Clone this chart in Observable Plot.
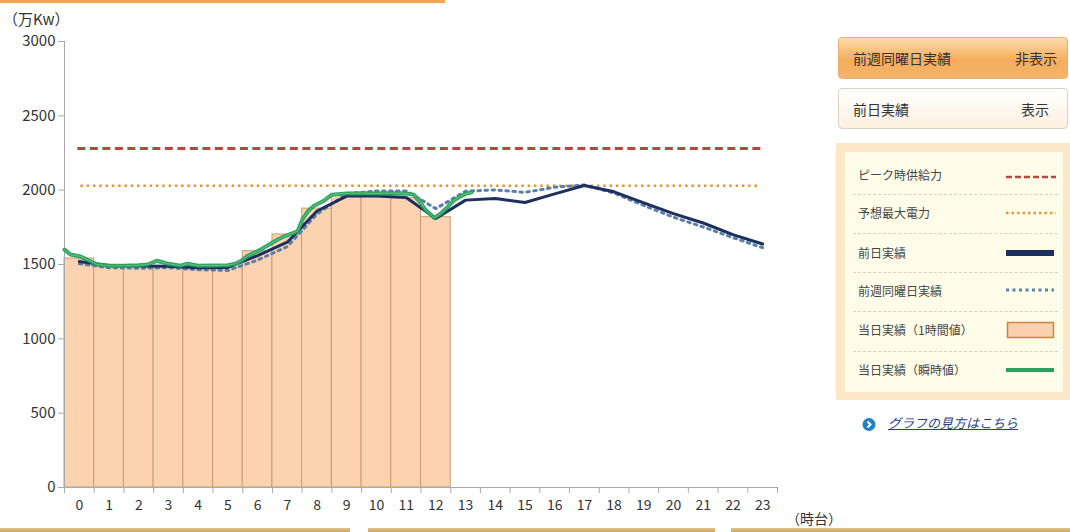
<!DOCTYPE html>
<html>
<head>
<meta charset="utf-8">
<script src="https://cdn.jsdelivr.net/npm/d3@7"></script>
<script src="https://cdn.jsdelivr.net/npm/@observablehq/plot@0.6"></script>
<style>
  html, body { margin: 0; padding: 0; background: #fff; }
  body { width: 1070px; height: 532px; position: relative; overflow: hidden;
         font-family: "Noto Sans CJK JP", "Noto Sans", sans-serif; color: #333; }
  .abs { position: absolute; }
  #chart { position: absolute; left: 0; top: 0; }
  .btn { position: absolute; left: 838px; width: 230px; box-sizing: border-box; border-radius: 4px;
         font-size: 14px; display: flex; align-items: center; justify-content: space-between;
         padding: 0 10px 0 14px; color: #333; }
  .row { position: absolute; left: 858px; font-size: 12px; color: #444; line-height: 14px; }
  .sep { position: absolute; left: 853px; width: 205px; border-top: 1px dashed #d6d2c0; height: 0; }
</style>
</head>
<body>
<div id="chart"></div>

<!-- page decorations -->
<div class="abs" style="left:0;top:0;width:445px;height:3px;background:#f3a650;"></div>
<div class="abs" style="left:0;top:528px;width:350px;height:4px;background:linear-gradient(#e2c58e,#c9a463);"></div>
<div class="abs" style="left:368px;top:528px;width:347px;height:4px;background:linear-gradient(#e2c58e,#c9a463);"></div>
<div class="abs" style="left:731px;top:528px;width:339px;height:4px;background:linear-gradient(#e2c58e,#c9a463);"></div>

<div class="abs" style="left:3px;top:8px;font-size:15px;color:#333;">（万Kw）</div>
<div class="abs" style="left:786px;top:508px;font-size:14px;color:#333;">（時台）</div>

<!-- buttons -->
<div class="btn" style="top:37px;height:42px;background:linear-gradient(#fcdcae,#f5ad5a 55%,#f3b46c);border:1px solid #e8b070;">
  <span>前週同曜日実績</span><span>非表示</span></div>
<div class="btn" style="top:88px;height:41px;background:linear-gradient(#ffffff,#fdf0e0);border:1px solid #d8d2c8;">
  <span>前日実績</span><span style="margin-right:8px;">表示</span></div>

<!-- legend -->
<div class="abs" style="left:836px;top:143px;width:234px;height:257px;background:#fce7c6;"></div>
<div class="abs" style="left:845px;top:152px;width:218px;height:240px;background:#fffde9;"></div>
<div class="row" style="top:168px;">ピーク時供給力</div>
<div class="sep" style="top:194px;"></div>
<div class="row" style="top:206px;">予想最大電力</div>
<div class="sep" style="top:233px;"></div>
<div class="row" style="top:246px;">前日実績</div>
<div class="sep" style="top:272px;"></div>
<div class="row" style="top:284px;">前週同曜日実績</div>
<div class="sep" style="top:311px;"></div>
<div class="row" style="top:323px;">当日実績（1時間値）</div>
<div class="sep" style="top:351px;"></div>
<div class="row" style="top:363px;">当日実績（瞬時値）</div>
<svg class="abs" style="left:1000px;top:165px;" width="62" height="215">
  <line x1="6" x2="56" y1="12" y2="12" stroke="#b5473c" stroke-width="2.5" stroke-dasharray="6,3"/>
  <line x1="6" x2="56" y1="48" y2="48" stroke="#e0963a" stroke-width="2.5" stroke-dasharray="2.5,3"/>
  <rect x="6" y="85" width="48" height="6" fill="#1d2f5f"/>
  <line x1="6" x2="54" y1="125" y2="125" stroke="#5e82a8" stroke-width="3" stroke-dasharray="3,3.5"/>
  <rect x="7.5" y="157.5" width="46" height="15" fill="#fbd0ae" stroke="#c8873f" stroke-width="1.5"/>
  <rect x="6" y="203" width="48" height="4" fill="#2aa05c"/>
</svg>

<!-- link -->
<svg class="abs" style="left:861px;top:417px;" width="16" height="16">
  <circle cx="8" cy="7.5" r="6.5" fill="#1f82c4"/>
  <path d="M6.5 4.5 L9.5 7.5 L6.5 10.5" fill="none" stroke="#fff" stroke-width="2"/>
</svg>
<div class="abs" style="left:888px;top:413px;font-size:13px;color:#2b3f8a;text-decoration:underline;font-style:italic;">グラフの見方はこちら</div>

<script>
// ---- data ----
const hours = [0,1,2,3,4,5,6,7,8,9,10,11,12,13,14,15,16,17,18,19,20,21,22,23];
const yTicks = [0, 500, 1000, 1500, 2000, 2500, 3000];

const peakSupply = 2280;   // ピーク時供給力
const forecastMax = 2030;  // 予想最大電力

// 当日実績（1時間値） hours 0..12
const todayHourly = [1540, 1490, 1485, 1490, 1480, 1480, 1590, 1702, 1876, 1968, 1968, 1945, 1818];

// 前日実績
const prevDay = [1520, 1493, 1490, 1488, 1478, 1480, 1560, 1650, 1860, 1960, 1960, 1950, 1810,
                 1933, 1944, 1917, 1975, 2031, 1989, 1914, 1842, 1779, 1701, 1638];

// 前週同曜日実績
const prevWeek = [1505, 1478, 1475, 1478, 1465, 1460, 1530, 1620, 1840, 1975, 1995, 1995, 1876,
                  1993, 2002, 1985, 2020, 2035, 1980, 1897, 1818, 1752, 1681, 1613];

// 当日実績（瞬時値）: time in hours, value
const liveTime = [0, 0.2, 0.5, 0.75, 1.1, 1.5, 2.0, 2.5, 2.8, 3.1, 3.45, 3.9, 4.15, 4.5, 5.0, 5.5, 5.75, 5.95,
                  6.15, 6.4, 6.6, 6.85, 7.15, 7.4, 7.6, 7.85, 8.0, 8.2, 8.4, 8.7, 9.0, 9.5, 10.0, 10.5, 11.0,
                  11.5, 11.75, 11.95, 12.15, 12.45, 12.65, 12.85, 13.1, 13.35, 13.5, 13.7];
const liveValue = [1600, 1567, 1556, 1534, 1500, 1492, 1492, 1495, 1500, 1525, 1507, 1492, 1505, 1492, 1493, 1495, 1505, 1525,
                   1556, 1580, 1600, 1630, 1665, 1690, 1705, 1725, 1800, 1860, 1895, 1925, 1970, 1978, 1980, 1978, 1980,
                   1978, 1970, 1925, 1868, 1813, 1840, 1878, 1930, 1960, 1975, 1985];

// ---- tables ----
const barData = todayHourly.map((v, i) => ({h: hours[i], v}));
const dayData = prevDay.map((v, i) => ({h: hours[i] + 0.5, v}));
const weekData = prevWeek.map((v, i) => ({h: hours[i] + 0.5, v}));
const liveData = liveTime.map((t, i) => ({t, v: liveValue[i]}));

const chart = Plot.plot({
  width: 840,
  height: 532,
  marginLeft: 64,
  marginRight: 63,
  marginTop: 41,
  marginBottom: 45,
  x: {domain: [0, 24], axis: null},
  y: {domain: [0, 3000], axis: null},
  style: {fontFamily: '"Noto Sans CJK JP", "Noto Sans", sans-serif', fontSize: "14px", color: "#333", background: "transparent"},
  marks: [
    Plot.rectY(barData, {x1: "h", x2: d => d.h + 1, y1: 0, y2: "v", fill: "#fbd3b1", stroke: "#c99c74", strokeWidth: 1}),
    Plot.ruleX([0], {y1: 0, y2: 3000, stroke: "#aaa"}),
    Plot.ruleY([0], {x1: 0, x2: 24, stroke: "#aaa"}),
    Plot.axisY({ticks: yTicks, tickSize: 6, tickPadding: 3, tickFormat: d => String(d), stroke: "#aaa", fill: "#333", fontSize: 15, label: null}),
    Plot.axisX({ticks: hours.concat([24]), tickSize: 6, tickFormat: () => "", stroke: "#aaa", label: null}),
    Plot.axisX({ticks: hours.map(h => h + 0.5), tickSize: 0, tickPadding: 13, tickFormat: d => String(Math.floor(d)), fill: "#333", fontSize: 14, label: null}),
    Plot.ruleY([peakSupply], {x1: 0.45, x2: 23.45, stroke: "#b5473c", strokeWidth: 3, strokeDasharray: "8,4.5"}),
    Plot.ruleY([forecastMax], {x1: 0.55, x2: 23.45, stroke: "#e0963a", strokeWidth: 2.5, strokeDasharray: "2.5,3.8"}),
    Plot.line(weekData, {x: "h", y: "v", stroke: "#5a80aa", strokeWidth: 3, strokeDasharray: "2.5,4.5"}),
    Plot.line(dayData, {x: "h", y: "v", stroke: "#1d2f5f", strokeWidth: 3}),
    Plot.line(liveData, {x: "t", y: "v", stroke: "#28a05c", strokeWidth: 4, strokeOpacity: 0.95}),
    Plot.line(liveData, {x: "t", y: "v", stroke: "#7fd896", strokeWidth: 1, strokeOpacity: 0.6})
  ]
});
document.getElementById("chart").appendChild(chart);
</script>
</body>
</html>
